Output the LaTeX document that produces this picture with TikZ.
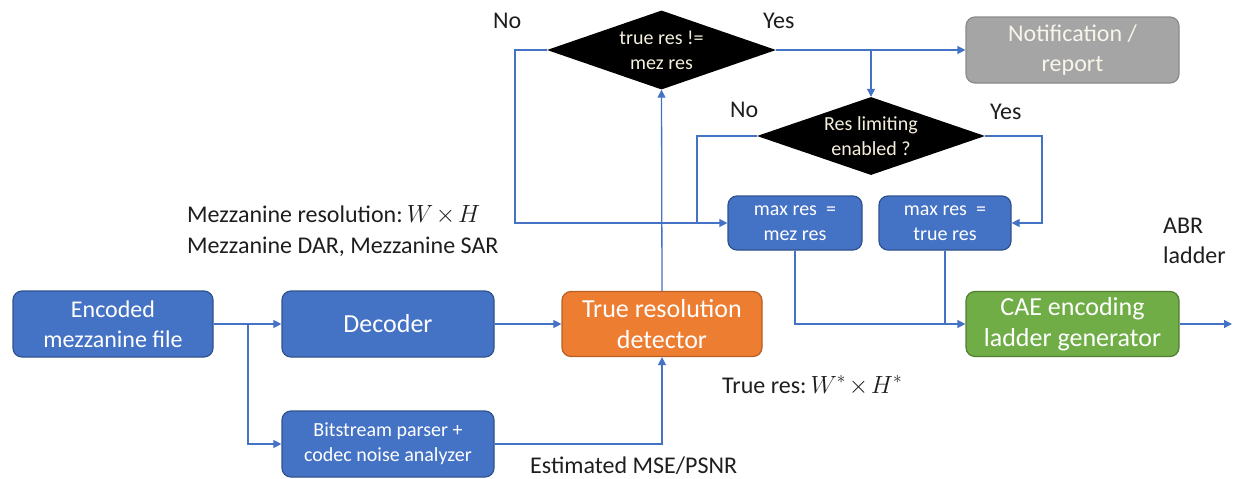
\documentclass[tikz,border=0pt]{standalone}
\usepackage{fontspec}
\setmainfont{Carlito}
\usetikzlibrary{arrows.meta,shapes.geometric}
\definecolor{bblue}{HTML}{4472C4}
\definecolor{bblueb}{HTML}{2F528F}
\definecolor{borange}{HTML}{ED7D31}
\definecolor{borangeb}{HTML}{B85F22}
\definecolor{bgreen}{HTML}{70AD47}
\definecolor{bgreenb}{HTML}{507E32}
\definecolor{bgray}{HTML}{A5A5A5}
\definecolor{bgrayb}{HTML}{8A8A8A}
\definecolor{lcol}{HTML}{4472C4}
\definecolor{tcol}{HTML}{1E1E1E}
\definecolor{dtext}{HTML}{F4EEDC}
\begin{document}
\begin{tikzpicture}[x=1pt,y=-1pt,
  box/.style={rectangle, rounded corners=9pt, draw=bblueb, fill=bblue, line width=1.2pt,
    text=white, align=center, inner sep=0pt, font=\fontsize{24}{30}\selectfont},
  bigbox/.style={box, font=\fontsize{26}{31}\selectfont},
  smallbox/.style={box, font=\fontsize{20}{25}\selectfont},
  dia/.style={diamond, fill=black, draw=none, inner sep=0pt},
  diatext/.style={text=dtext, align=center, inner sep=0pt, font=\fontsize{20}{25}\selectfont},
  lbl/.style={text=tcol, inner sep=0pt, anchor=base west, font=\fontsize{24}{31}\selectfont},
  conn/.style={draw=lcol, line width=1.3pt},
  arr/.style={conn, -{Triangle[length=8pt,width=8pt]}}]
\useasboundingbox (0,0) rectangle (1234,479);

% boxes
\node[box, minimum width=200pt, minimum height=66pt] (enc) at (113,324) {Encoded\\mezzanine file};
\node[bigbox, minimum width=212pt, minimum height=66pt] (dec) at (388,324) {Decoder};
\node[smallbox, minimum width=212pt, minimum height=66pt] (bit) at (388,444) {Bitstream parser +\\codec noise analyzer};
\node[bigbox, fill=borange, draw=borangeb, minimum width=200pt, minimum height=65pt] (det) at (662,324) {True resolution\\detector};
\node[bigbox, fill=bgreen, draw=bgreenb, minimum width=213pt, minimum height=65pt] (cae) at (1072.5,324) {CAE encoding\\ladder generator};
\node[box, fill=bgray, draw=bgrayb, text=dtext!60!white, minimum width=213pt, minimum height=66pt] (notif) at (1072.5,50) {Notification /\\report};
\node[smallbox, minimum width=134pt, minimum height=54pt] (mezres) at (795,223) {max res\ \ =\\mez res};
\node[smallbox, minimum width=132pt, minimum height=54pt] (trueres) at (945,223) {max res\ \ =\\true res};

% diamonds
\node[dia, minimum width=229pt, minimum height=79pt] (d1) at (661.5,50) {};
\node[diatext] (d1t) at (d1.center) {true res !=\\mez res};
\node[dia, minimum width=228pt, minimum height=78pt] (d2) at (871,136) {};
\node[diatext] (d2t) at (d2.center) {Res limiting\\enabled ?};

% helper coordinates
\coordinate (br) at (248,324);
\coordinate (nol) at (515,50);
\coordinate (nol2) at (697,223);
\coordinate (yb) at (871,50);
\coordinate (yr) at (1042,136);
\coordinate (out) at (1232,324);

% connectors
\draw[arr] (enc.east) -- (dec.west);
\draw[arr] (br) |- (bit.west);
\draw[arr] (dec.east) -- (det.west);
\draw[arr] (bit.east) -| (det.south);
\draw[arr] (det.north) -- (d1.south);
\draw[arr] (d1.west) -- (nol) |- (mezres.west);
\draw[arr] (d1.east) -- (notif.west);
\draw[arr] (yb) -- (d2.north);
\draw[conn] (d2.west) -| (nol2);
\draw[arr] (d2.east) -- (yr) |- (trueres.east);
\draw[arr] (mezres.south) |- (cae.west);
\draw[conn] (trueres.south) -- (trueres.south |- cae.west);
\draw[arr] (cae.east) -- (out);

% labels
\node[lbl] (no1) at (493,28) {No};
\node[lbl] (yes1) at (763,28) {Yes};
\node[lbl] (no2) at (730,117) {No};
\node[lbl] (yes2) at (990,119) {Yes};
\node[lbl] (mezl1) at (187,222) {Mezzanine resolution:\,$W\mskip-2mu\times\mskip-2mu H$};
\node[lbl] (mezl2) at (187,253) {Mezzanine DAR, Mezzanine SAR};
\node[lbl] (abr1) at (1163,233) {ABR};
\node[lbl] (abr2) at (1163,263) {ladder};
\node[lbl] (truel) at (722,393) {True res:\,$W^{*}\mskip-2mu\times\mskip-2mu H^{*}$};
\node[lbl] (estl) at (530,473) {Estimated MSE/PSNR};
\end{tikzpicture}
\end{document}
